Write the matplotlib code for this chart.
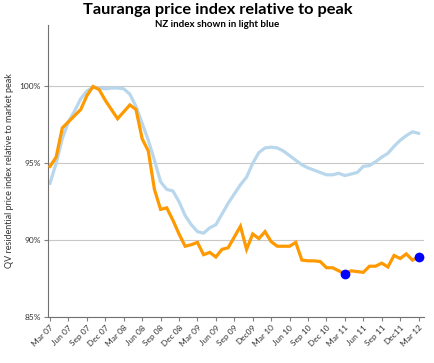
import matplotlib
matplotlib.use("Agg")
import matplotlib.pyplot as plt
import numpy as np

months = ["Mar 07", "Jun 07", "Sep 07", "Dec 07", "Mar 08", "Jun 08", "Sep 08",
          "Dec 08", "Mar 09", "Jun 09", "Sep 09", "Dec09", "Mar 10", "Jun 10",
          "Sep 10", "Dec 10", "Mar 11", "Jun 11", "Sep 11", "Dec11", "Mar 12"]

tauranga = [94.8, 95.4, 97.3, 97.7, 98.1, 98.5, 99.4, 100.0, 99.8, 99.1,
            98.5, 97.9, 98.35, 98.8, 98.5, 96.6, 95.8, 93.3, 92.0, 92.1,
            91.3, 90.4, 89.6, 89.7, 89.85, 89.05, 89.2, 88.9, 89.4, 89.5,
            90.2, 90.9, 89.4, 90.4, 90.1, 90.55, 89.9, 89.6, 89.6, 89.6,
            89.85, 88.7, 88.65, 88.65, 88.6, 88.2, 88.2, 88.0, 87.8, 88.0,
            87.95, 87.9, 88.3, 88.3, 88.5, 88.25, 89.0, 88.8, 89.1, 88.7, 88.9]

nz = [93.7, 95.0, 96.6, 97.7, 98.4, 99.2, 99.7, 99.95, 99.9, 99.85,
      99.9, 99.9, 99.85, 99.5, 98.7, 97.6, 96.5, 95.2, 93.8, 93.3,
      93.2, 92.5, 91.6, 91.0, 90.55, 90.45, 90.8, 91.0, 91.7, 92.4,
      93.0, 93.6, 94.1, 95.0, 95.7, 96.0, 96.05, 96.0, 95.8, 95.5,
      95.2, 94.9, 94.7, 94.55, 94.4, 94.25, 94.25, 94.35, 94.2, 94.3,
      94.4, 94.8, 94.85, 95.1, 95.4, 95.65, 96.1, 96.5, 96.8, 97.05, 96.95]

highlight_idx = [48, 60]
yticks = [85, 90, 95, 100]
ytick_labels = ["85%", "90%", "95%", "100%"]

plt.rcParams['font.family'] = ['Lato', 'DejaVu Sans']

fig = plt.figure(figsize=(4.35, 3.63), dpi=100)
ax = fig.add_axes([0.110, 0.127, 0.865, 0.804])

x = np.arange(len(tauranga))
ax.plot(x, nz, color="#B9D7EC", lw=2.3, solid_joinstyle="round", zorder=2)
ax.plot(x, tauranga, color="#FF9900", lw=2.3, solid_joinstyle="miter", zorder=3)
ax.plot([x[i] for i in highlight_idx], [tauranga[i] for i in highlight_idx],
        "o", color="#0000FF", ms=6, zorder=4)

ax.set_xlim(-0.35, 60.9)
ax.set_ylim(85, 104)
ax.set_yticks(yticks)
ax.set_yticklabels(ytick_labels)
ax.yaxis.grid(True, color="#C8C8C8", lw=0.8)
ax.set_axisbelow(True)
ax.set_xticks(np.arange(0, len(tauranga), 3))
ax.set_xticklabels(months, rotation=45, ha="right", rotation_mode="anchor")
ax.tick_params(axis="x", length=3, color="#808080", labelsize=6, pad=2, labelcolor="#333333")
ax.tick_params(axis="y", length=3, color="#808080", labelsize=6, pad=2, labelcolor="#333333")
for s in ["top", "right"]:
    ax.spines[s].set_visible(False)
ax.spines["left"].set_color("#707070")
ax.spines["bottom"].set_color("#707070")
ax.set_ylabel("QV residential price index relative to market peak", fontsize=6.5,
              color="#333333", labelpad=4)

fig.text(0.5, 0.972, "Tauranga price index relative to peak", ha="center", va="center",
         fontsize=11.8, fontweight="bold", color="black")
fig.text(0.5, 0.932, "NZ index shown in light blue", ha="center", va="center",
         fontsize=7, fontweight="bold", color="black")

fig.savefig("out.png", dpi=100)
